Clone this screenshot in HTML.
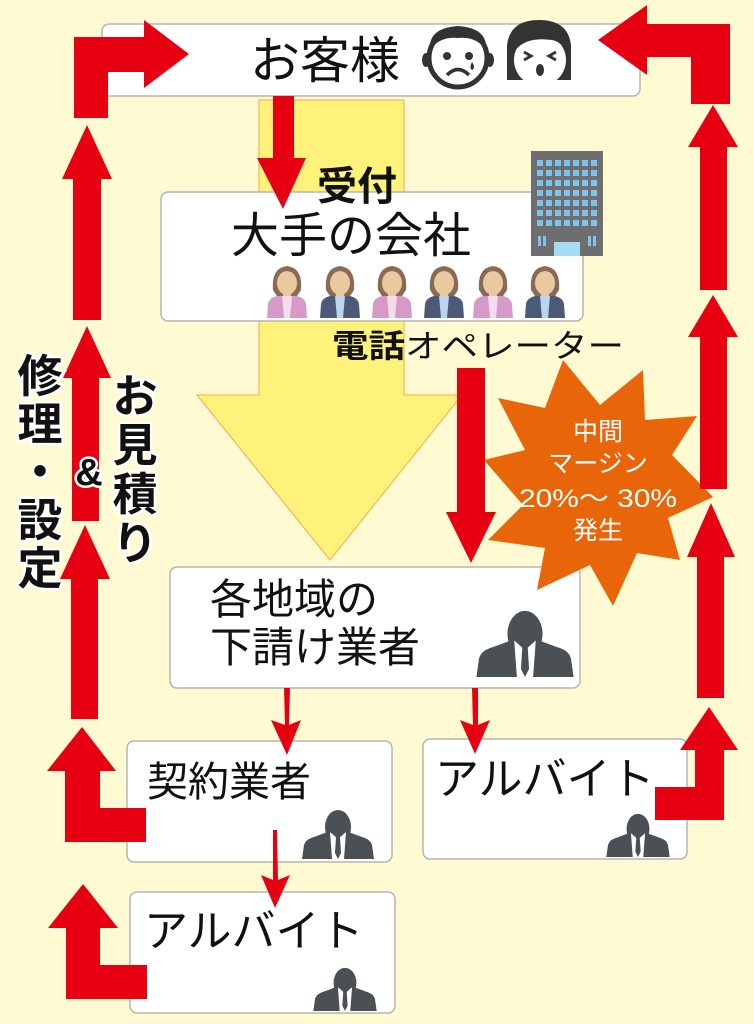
<!DOCTYPE html>
<html><head><meta charset="utf-8"><style>
html,body{margin:0;padding:0;background:#fffad2;}
svg{display:block}
text{font-family:"Liberation Sans","Noto Sans CJK JP",sans-serif;}
</style></head><body>
<svg width="754" height="1024" viewBox="0 0 754 1024" xmlns="http://www.w3.org/2000/svg">
<defs>
<g id="man">
 <ellipse cx="0" cy="-32" rx="13" ry="17" fill="#4a5054"/>
 <path d="M-9,-18 L9,-18 L9,-8 L-9,-8Z" fill="#4a5054"/>
 <path d="M-36,0 L-34,-14 Q-32,-20 -24,-22 L-8,-28 L8,-28 L24,-22 Q32,-20 34,-14 L36,0Z" fill="#4a5054"/>
 <path d="M-8,-27 L0,-20 L8,-27 L6,0 L-6,0Z" fill="#fff"/>
 <path d="M-2,-22 L2,-22 L3,-6 L0,0 L-3,-6Z" fill="#4a5054"/>
</g>
<g id="womanP">
 <path d="M-14,-28 Q-16,-50 0,-52 Q16,-50 14,-28 L10,-22 L-10,-22Z" fill="#8a6a55"/>
 <ellipse cx="0" cy="-35" rx="10" ry="12" fill="#e9c9a0"/>
 <path d="M-10,-42 Q0,-52 10,-42 L10,-46 Q0,-54 -10,-46Z" fill="#8a6a55"/>
 <rect x="-4" y="-25" width="8" height="6" fill="#e9c9a0"/>
 <path d="M-20,0 L-19,-14 Q-18,-20 -10,-22 L10,-22 Q18,-20 19,-14 L20,0Z" fill="#d79ac8"/>
 <path d="M-5,-22 L5,-22 L3,0 L-3,0Z" fill="#f4dcec"/>
</g>
<g id="womanN">
 <path d="M-14,-28 Q-16,-50 0,-52 Q16,-50 14,-28 L10,-22 L-10,-22Z" fill="#8a6a55"/>
 <ellipse cx="0" cy="-35" rx="10" ry="12" fill="#e9c9a0"/>
 <path d="M-10,-42 Q0,-52 10,-42 L10,-46 Q0,-54 -10,-46Z" fill="#8a6a55"/>
 <rect x="-4" y="-25" width="8" height="6" fill="#e9c9a0"/>
 <path d="M-20,0 L-19,-14 Q-18,-20 -10,-22 L10,-22 Q18,-20 19,-14 L20,0Z" fill="#4a5a78"/>
 <path d="M-5,-22 L5,-22 L3,0 L-3,0Z" fill="#bcd4ec"/>
</g>
</defs>

<path d="M259,100 L404,100 L404,395 L462,395 L330,560 L197,395 L259,395Z" fill="#fff27a" stroke="#f5a94a" stroke-width="1"/>

<rect x="102" y="24" width="538" height="72" rx="7" fill="#fff" stroke="#b5b5b5" stroke-width="1.5"/>
<text x="325" y="78" font-size="50" text-anchor="middle" fill="#111">お客様</text>
<circle cx="458" cy="58" r="29" fill="#fff" stroke="#333" stroke-width="5"/>
<path d="M430,50 Q428,28 458,26 Q488,28 486,50 Q476,36 458,38 Q440,36 430,50Z" fill="#333"/>
<ellipse cx="426" cy="60" rx="4" ry="7" fill="#333"/><ellipse cx="490" cy="60" rx="4" ry="7" fill="#333"/>
<circle cx="447" cy="56" r="4" fill="#333"/><circle cx="469" cy="56" r="4" fill="#333"/>
<path d="M472,62 Q469,68 472,70 Q476,68 472,62Z" fill="#333"/>
<path d="M447,75 Q458,64 469,75" fill="none" stroke="#333" stroke-width="3.5"/>
<path d="M507,80 L507,45 Q510,20 539,20 Q568,20 571,45 L571,80Z" fill="#333"/>
<ellipse cx="540" cy="60" rx="26" ry="26" fill="#fff"/>
<path d="M514,52 Q525,36 552,40 Q562,42 566,52 L566,40 Q555,26 530,30 Q516,36 514,52Z" fill="#333"/>
<path d="M524,52 L531,56 L524,60 M556,52 L549,56 L556,60" fill="none" stroke="#333" stroke-width="3"/>
<ellipse cx="540" cy="70" rx="4" ry="6" fill="#333"/>

<rect x="161" y="192" width="422" height="129" rx="7" fill="#fff" stroke="#b5b5b5" stroke-width="1.5"/>
<text x="357" y="200" font-size="40" text-anchor="middle" fill="#111" font-weight="bold">受付</text>
<text x="351" y="252" font-size="48" text-anchor="middle" fill="#111">大手の会社</text>
<rect x="531" y="151" width="72" height="105" fill="#6e6e6e"/>
<g fill="#7cc4ee">
<rect x="537" y="160" width="6" height="6"/><rect x="546" y="160" width="6" height="6"/><rect x="555" y="160" width="6" height="6"/><rect x="564" y="160" width="6" height="6"/><rect x="573" y="160" width="6" height="6"/><rect x="582" y="160" width="6" height="6"/><rect x="591" y="160" width="6" height="6"/>
<rect x="537" y="170" width="6" height="6"/><rect x="546" y="170" width="6" height="6"/><rect x="555" y="170" width="6" height="6"/><rect x="564" y="170" width="6" height="6"/><rect x="573" y="170" width="6" height="6"/><rect x="582" y="170" width="6" height="6"/><rect x="591" y="170" width="6" height="6"/>
<rect x="537" y="180" width="6" height="6"/><rect x="546" y="180" width="6" height="6"/><rect x="555" y="180" width="6" height="6"/><rect x="564" y="180" width="6" height="6"/><rect x="573" y="180" width="6" height="6"/><rect x="582" y="180" width="6" height="6"/><rect x="591" y="180" width="6" height="6"/>
<rect x="537" y="190" width="6" height="6"/><rect x="546" y="190" width="6" height="6"/><rect x="555" y="190" width="6" height="6"/><rect x="564" y="190" width="6" height="6"/><rect x="573" y="190" width="6" height="6"/><rect x="582" y="190" width="6" height="6"/><rect x="591" y="190" width="6" height="6"/>
<rect x="537" y="200" width="6" height="6"/><rect x="546" y="200" width="6" height="6"/><rect x="555" y="200" width="6" height="6"/><rect x="564" y="200" width="6" height="6"/><rect x="573" y="200" width="6" height="6"/><rect x="582" y="200" width="6" height="6"/><rect x="591" y="200" width="6" height="6"/>
<rect x="537" y="210" width="6" height="6"/><rect x="546" y="210" width="6" height="6"/><rect x="555" y="210" width="6" height="6"/><rect x="564" y="210" width="6" height="6"/><rect x="573" y="210" width="6" height="6"/><rect x="582" y="210" width="6" height="6"/><rect x="591" y="210" width="6" height="6"/>
<rect x="537" y="220" width="6" height="6"/><rect x="546" y="220" width="6" height="6"/><rect x="555" y="220" width="6" height="6"/><rect x="564" y="220" width="6" height="6"/><rect x="573" y="220" width="6" height="6"/><rect x="582" y="220" width="6" height="6"/><rect x="591" y="220" width="6" height="6"/>
<rect x="538" y="236" width="3" height="10"/><rect x="543" y="236" width="3" height="10"/><rect x="588" y="236" width="3" height="10"/><rect x="593" y="236" width="3" height="10"/>
<rect x="554" y="242" width="26" height="14" fill="#a8daf4"/>
</g>
<use href="#womanP" x="287" y="318"/>
<use href="#womanN" x="340" y="318"/>
<use href="#womanP" x="392" y="318"/>
<use href="#womanN" x="444" y="318"/>
<use href="#womanP" x="493" y="318"/>
<use href="#womanN" x="545" y="318"/>
<text x="332" y="357" font-size="32" fill="#111" textLength="292" lengthAdjust="spacingAndGlyphs"><tspan font-weight="bold">電話</tspan>オペレーター</text>

<path d="M273,96 L294,96 L294,158 L306,158 L283,209 L257,158 L273,158Z" fill="#e60012"/>

<rect x="170" y="567" width="410" height="121" rx="7" fill="#fff" stroke="#b5b5b5" stroke-width="1.5"/>
<text x="210" y="614" font-size="42" fill="#111">各地域の</text>
<text x="210" y="662" font-size="42" fill="#111">下請け業者</text>
<g transform="translate(525,677) scale(1.35)"><use href="#man"/></g>

<polygon points="563,360 600,405 643,370 645,420 697,416 672,455 713,497 668,518 680,560 637,553 613,606 590,565 537,590 545,548 488,540 523,505 484,460 525,450 498,398 545,408" fill="#e8650a"/>
<g fill="#fff" font-size="25" text-anchor="middle">
<text x="598" y="440">中間</text>
<text x="598" y="472">マージン</text>
<text x="598" y="507" textLength="158" lengthAdjust="spacingAndGlyphs">20%～ 30%</text>
<text x="598" y="539">発生</text>
</g>

<path d="M457,368 L485,368 L485,512 L496,512 L471,563 L446,512 L457,512Z" fill="#e60012"/>

<rect x="127" y="741" width="265" height="121" rx="7" fill="#fff" stroke="#b5b5b5" stroke-width="1.5"/>
<text x="147" y="796" font-size="41" fill="#111">契約業者</text>
<g transform="translate(338,859) scale(1.0)"><use href="#man"/></g>

<rect x="423" y="739" width="264" height="120" rx="7" fill="#fff" stroke="#b5b5b5" stroke-width="1.5"/>
<text x="435" y="794" font-size="44" fill="#111">アルバイト</text>
<g transform="translate(638,857) scale(0.88)"><use href="#man"/></g>

<rect x="130" y="892" width="265" height="121" rx="7" fill="#fff" stroke="#b5b5b5" stroke-width="1.5"/>
<text x="144" y="946" font-size="44" fill="#111">アルバイト</text>
<g transform="translate(345,1011) scale(0.88)"><use href="#man"/></g>

<path d="M284,688 L290,688 L289,725 L301,720 L287,755 L271,720 L285,725Z" fill="#e60012"/>
<path d="M472,688 L478,688 L478,725 L490,720 L475,754 L460,720 L473,725Z" fill="#e60012"/>
<path d="M273,830 L277,830 L278,880 L290,875 L275,908 L261,875 L273,880Z" fill="#e60012"/>

<path d="M74,37 L144,37 L144,20 L189,54 L144,88 L144,72 L108,72 L108,118 L74,118Z" fill="#e60012"/>
<path d="M87,125 L112,179 L101,179 L101,320 L73,320 L73,179 L62,179Z" fill="#e60012"/>
<path d="M87,326 L111,378 L99,378 L99,521 L72,521 L72,378 L63,378Z" fill="#e60012"/>
<path d="M85,525 L110,579 L98,579 L98,719 L71,719 L71,579 L60,579Z" fill="#e60012"/>
<path d="M82,727 L116,771 L100,771 L100,808 L146,808 L146,842 L65,842 L65,771 L47,771Z" fill="#e60012"/>
<path d="M83,884 L118,928 L100,928 L100,965 L147,965 L147,999 L66,999 L66,928 L48,928Z" fill="#e60012"/>

<path d="M598,40 L647,5 L647,24 L730,24 L730,104 L691,104 L691,57 L647,57 L647,75Z" fill="#e60012"/>
<path d="M713,105 L738,147 L727,147 L727,290 L700,290 L700,147 L688,147Z" fill="#e60012"/>
<path d="M713,295 L738,337 L727,337 L727,489 L700,489 L700,337 L688,337Z" fill="#e60012"/>
<path d="M711,503 L735,557 L724,557 L724,698 L697,698 L697,557 L687,557Z" fill="#e60012"/>
<path d="M709,707 L738,750 L724,750 L724,820 L655,820 L655,787 L695,787 L695,750 L680,750Z" fill="#e60012"/>

<g font-size="45" font-weight="bold" fill="#111" stroke="#fff" stroke-width="5" paint-order="stroke" text-anchor="middle">
<text x="40" y="392">修</text>
<text x="40" y="440">理</text>
<text x="40" y="488">・</text>
<text x="40" y="536">設</text>
<text x="40" y="584">定</text>
<text x="135" y="412">お</text>
<text x="135" y="461">見</text>
<text x="135" y="510">積</text>
<text x="135" y="559">り</text>
<text x="89" y="485" font-size="38">&amp;</text>
</g>
</svg>
</body></html>
